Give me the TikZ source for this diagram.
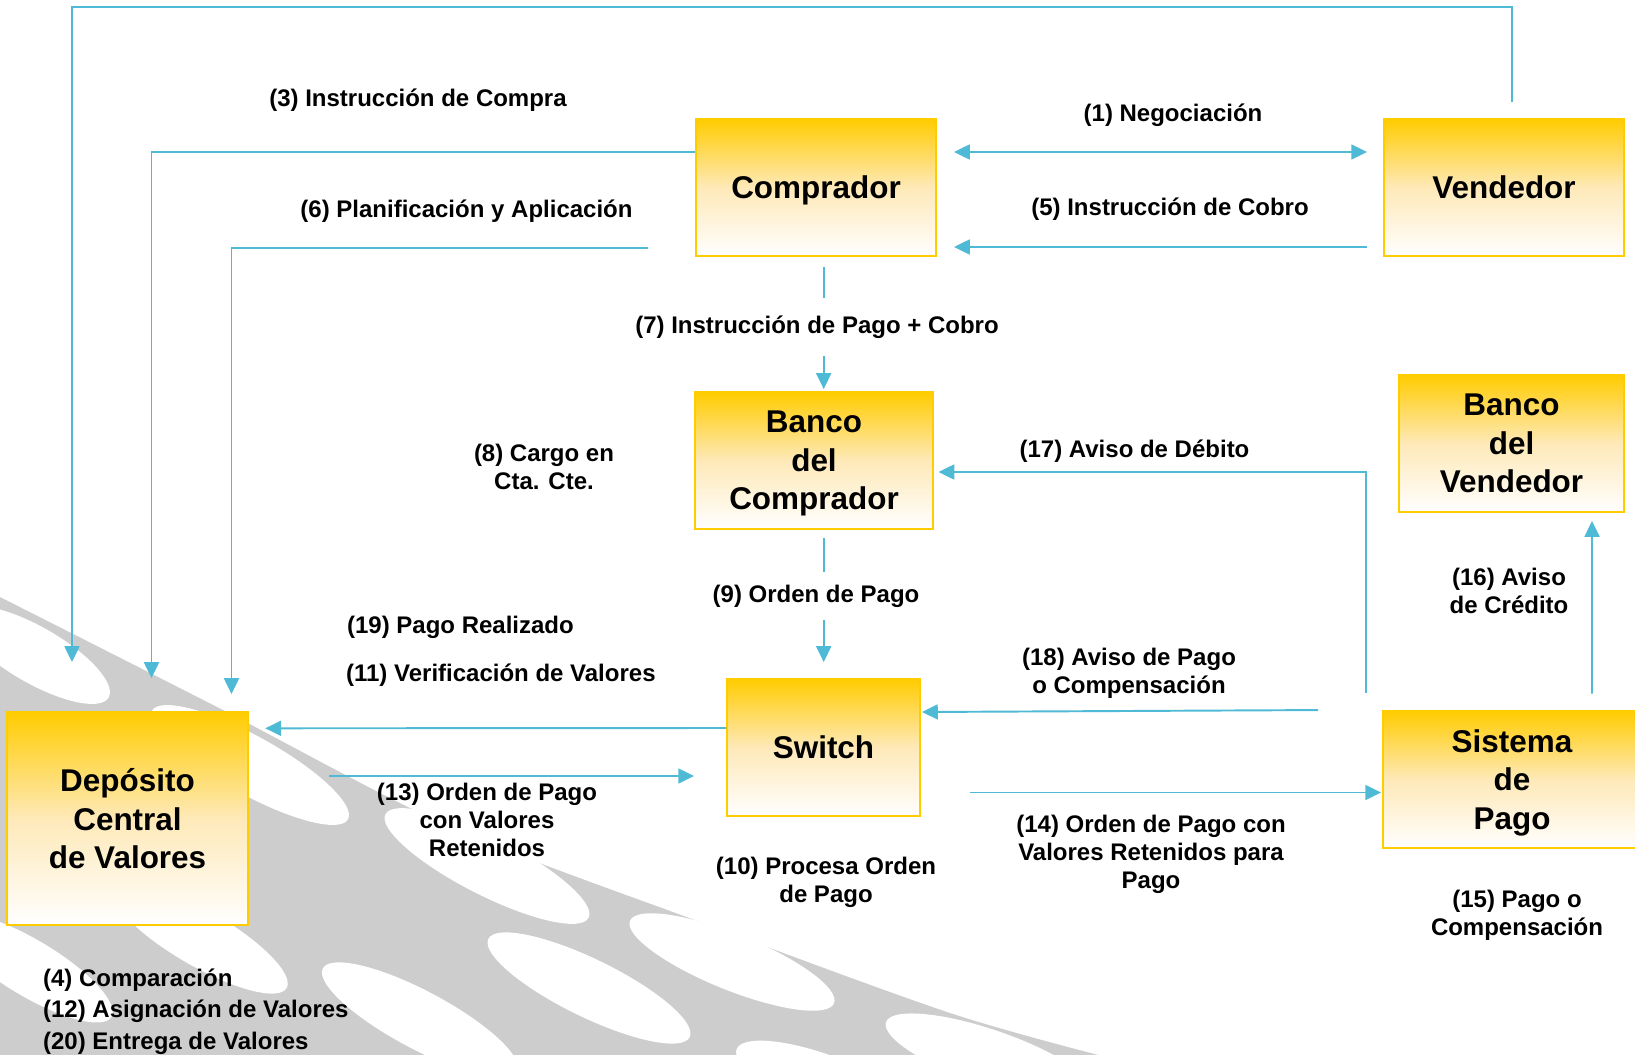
\documentclass[tikz,border=0pt]{standalone}
\usepackage{fontspec}
\setmainfont{Liberation Sans}
\usetikzlibrary{arrows.meta, calc}

\definecolor{flowblue}{RGB}{79,186,214}
\definecolor{boxgold}{RGB}{255,204,0}
\definecolor{boxmid}{RGB}{254,233,184}
\definecolor{swooshgray}{RGB}{205,205,205}

\tikzset{
  entity/.style={draw=boxgold, line width=1.1pt, top color=boxgold, bottom color=white, middle color=boxmid,
    align=center, inner sep=0pt, text depth=0pt, font=\fontsize{17.9}{21.9}\selectfont\bfseries},
  lbl/.style={align=center, inner sep=1pt, font=\fontsize{13.66}{15.9}\selectfont\bfseries},
  flow/.style={draw=flowblue, line width=1.1pt, -{Triangle[length=9pt,width=8.5pt]}},
  hole/.style={fill=white}
}

\begin{document}
\begin{tikzpicture}[x=0.02cm, y=-0.02cm]
                    \clip (0,0) rectangle (1635,1054);
                    \fill[white] (0,0) rectangle (1635,1054);
                    \fill[swooshgray] plot[smooth] coordinates {(0,597) (217,707) (450,827) (700,922) (950,1013) (1110,1058)} -- (0,1060) -- cycle;
                    \foreach \cx/\cy/\ra/\rb/\ang in {35/655/85/28/-30, 250/765/112/29/-29, 487/866/114/29/-27, 732/962/110/28/-22, 990/1058/110/28/-19,
                                                      30/968/95/28/-31, 200/938/100/28/-30, 420/1020/110/29/-28, 589/988/112/29/-26, 830/1085/100/28/-21}
                        \fill[hole, rotate around={\ang:(\cx,\cy)}] (\cx,\cy) ellipse [x radius=\ra, y radius=\rb];

                    \node[entity, minimum width=4.8cm, minimum height=2.74cm] (comp) at (816,187.5) {Comprador};
                    \node[entity, minimum width=4.8cm, minimum height=2.74cm] (vend) at (1504,187.5) {Vendedor};
                    \node[entity, minimum width=4.76cm, minimum height=2.74cm] (bcomp) at (814,460.5) {Banco\\ del\\ Comprador};
                    \node[entity, minimum width=4.5cm, minimum height=2.74cm] (bvend) at (1511.5,443.5) {Banco\\ del\\ Vendedor};
                    \node[entity, minimum width=3.86cm, minimum height=2.74cm] (switch) at (823.5,747.5) {Switch};
                    \node[entity, minimum width=4.82cm, minimum height=4.26cm] (dcv) at (127.5,818.5) {Depósito\\ Central\\ de Valores};
                    \node[entity, minimum width=5.16cm, minimum height=2.74cm] (sispago) at (1512,779.5) {Sistema\\ de\\ Pago};

                    \draw[flow] ([shift={(8,-16)}]vend.north) -- ++(0,-95) -| ([shift={(-55.5,-49)}]dcv.north);
                    \draw[flow] ([shift={(0,-35.5)}]comp.west) -| ([shift={(24,-33)}]dcv.north);
                    \draw[flow] ([shift={(-47.5,60.5)}]comp.west) -| ([shift={(104,-17)}]dcv.north);
                    \draw[flow, {Triangle[length=9pt,width=8.5pt]}-{Triangle[length=9pt,width=8.5pt]}] ([shift={(17,-35.5)}]comp.east) -- ([shift={(-16,-35.5)}]vend.west);
                    \draw[flow] ([shift={(-16,59.5)}]vend.west) -- ([shift={(17,59.5)}]comp.east);
                    \draw[flow] ([shift={(7.7,10)}]comp.south) -- ([shift={(9.7,-2)}]bcomp.north);
                    \draw[flow] ([shift={(9.7,8)}]bcomp.south) -- ([shift={(0.2,-16)}]switch.north);
                    \draw[flow] ([shift={(-16,-17)}]sispago.north west) |- ([shift={(4.5,11.5)}]bcomp.east);
                    \draw[flow] ([shift={(-64,0)}]sispago.north west) -- ([shift={(1,-35.5)}]switch.east);
                    \draw[flow] ([shift={(48.7,45)}]switch.east) -- ([shift={(-1,13)}]sispago.west);
                    \draw[flow] ([shift={(80,-16.5)}]sispago.north) -- ([shift={(80.5,8)}]bvend.south);
                    \draw[flow] ([shift={(0,-19.5)}]switch.west) -- ([shift={(16.3,-90.2)}]dcv.east);
                    \draw[flow] ([shift={(80.3,-42.5)}]dcv.east) -- ([shift={(-32,28.5)}]switch.west);

                    \node[lbl] (l1) at (1173,115.6) {(1) Negociación};
                    \node[lbl] (l3) at (418,100) {(3) Instrucción de Compra};
                    \node[lbl] (l5) at (1170,209.5) {(5) Instrucción de Cobro};
                    \node[lbl] (l6) at (466.5,211.5) {(6) Planificación y Aplicación};
                    \node[lbl, fill=white, inner ysep=10pt] (l7) at (817,327) {(7) Instrucción de Pago + Cobro};
                    \node[lbl] (l8) at (544,467) {(8) Cargo en\\ Cta. Cte.};
                    \node[lbl, fill=white, inner ysep=7pt] (l9) at (816,596) {(9) Orden de Pago};
                    \node[lbl] (l10) at (826,882) {(10) Procesa Orden\\ de Pago};
                    \node[lbl, anchor=west] (l19) at (345,627.5) {(19) Pago Realizado};
                    \node[lbl, anchor=west] (l11) at (344,675.5) {(11) Verificación de Valores};
                    \node[lbl] (l13) at (487,820) {(13) Orden de Pago\\ con Valores\\ Retenidos};
                    \node[lbl] (l14) at (1151,854) {(14) Orden de Pago con\\ Valores Retenidos para\\ Pago};
                    \node[lbl] (l15) at (1517,915) {(15) Pago o\\ Compensación};
                    \node[lbl] (l16) at (1509,591) {(16) Aviso\\ de Crédito};
                    \node[lbl] (l17) at (1134.5,451.5) {(17) Aviso de Débito};
                    \node[lbl] (l18) at (1129,673) {(18) Aviso de Pago\\ o Compensación};
                    \node[lbl, align=left, anchor=west, font=\fontsize{13.66}{18}\selectfont\bfseries] (l4) at (41,1011.5) {(4) Comparación\\ (12) Asignación de Valores\\ (20) Entrega de Valores};
                \end{tikzpicture}
\end{document}
